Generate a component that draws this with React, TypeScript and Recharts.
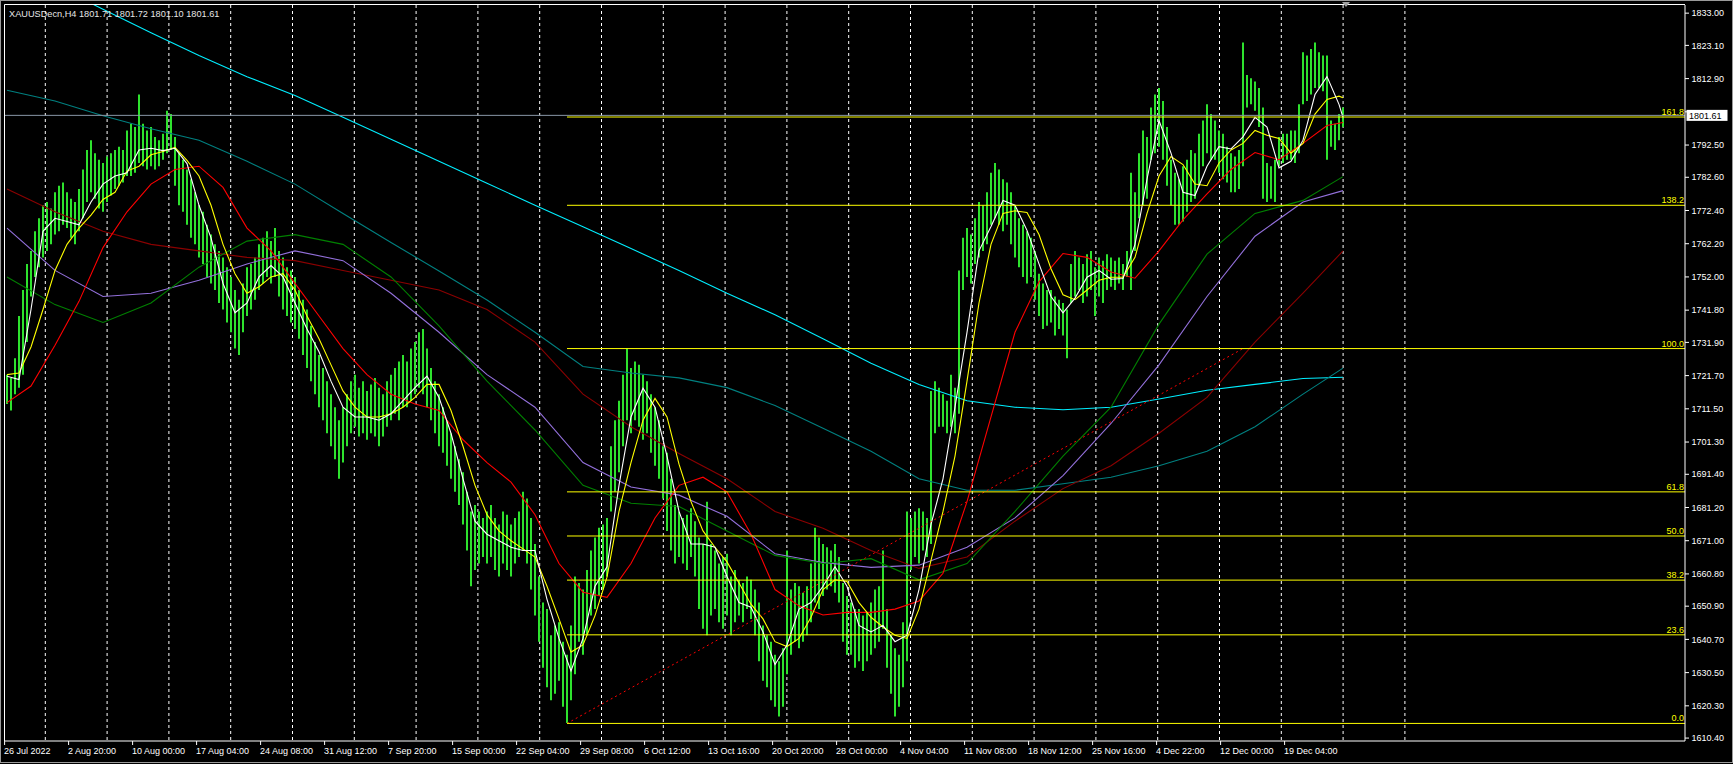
import React from 'react';
import { ComposedChart, Bar, Line, XAxis, YAxis, CartesianGrid, ReferenceLine } from 'recharts';

// H4 bars, two bars merged per row (low / high)
const barLow = [
  1713, 1711, 1716, 1718, 1722, 1732, 1746, 1752, 1755, 1758,
  1760, 1762, 1765, 1766, 1768, 1767, 1764, 1762, 1766, 1770,
  1775, 1778, 1776, 1773, 1772, 1775, 1777, 1779, 1780, 1781,
  1783, 1783, 1784, 1787, 1786, 1785, 1786, 1785, 1786, 1788,
  1790, 1791, 1780, 1774, 1772, 1768, 1764, 1762, 1758, 1756,
  1752, 1750, 1748, 1744, 1742, 1738, 1735, 1730, 1728, 1735,
  1740, 1742, 1745, 1748, 1750, 1752, 1750, 1752, 1746, 1742,
  1740, 1738, 1736, 1733, 1728, 1724, 1720, 1716, 1712, 1708,
  1704, 1700, 1696, 1690, 1695, 1700, 1704, 1706, 1703, 1704,
  1702, 1704, 1703, 1700, 1703, 1706, 1708, 1710, 1708, 1712,
  1712, 1714, 1716, 1718, 1716, 1712, 1708, 1704, 1700, 1698,
  1694, 1690, 1686, 1682, 1676, 1668, 1657, 1662, 1664, 1666,
  1664, 1666, 1662, 1660, 1664, 1662, 1660, 1664, 1666, 1668,
  1664, 1656, 1648, 1640, 1632, 1626, 1622, 1624, 1628, 1620,
  1615, 1622, 1630, 1640, 1636, 1642, 1648, 1650, 1654, 1656,
  1660, 1680, 1686, 1692, 1700, 1708, 1704, 1708, 1706, 1702,
  1704, 1698, 1694, 1690, 1684, 1674, 1668, 1664, 1666, 1664,
  1662, 1666, 1660, 1650, 1644, 1642, 1648, 1650, 1646, 1644,
  1648, 1642, 1646, 1648, 1646, 1650, 1647, 1642, 1634, 1628,
  1626, 1622, 1620, 1617, 1620, 1630, 1636, 1640, 1638, 1640,
  1642, 1646, 1652, 1650, 1654, 1656, 1657, 1655, 1652, 1640,
  1636, 1636, 1632, 1634, 1631, 1634, 1636, 1638, 1640, 1644,
  1632, 1624, 1617, 1620, 1626, 1634, 1662, 1666, 1664, 1668,
  1666, 1670, 1704, 1706, 1706, 1704, 1706, 1704, 1710, 1748,
  1752, 1750, 1756, 1758, 1760, 1762, 1768, 1770, 1768, 1766,
  1768, 1762, 1758, 1755, 1752, 1750, 1752, 1745, 1740, 1736,
  1737, 1738, 1734, 1736, 1734, 1727, 1744, 1746, 1748, 1744,
  1746, 1748, 1740, 1746, 1744, 1748, 1749, 1748, 1750, 1748,
  1752, 1748, 1760, 1770, 1774, 1776, 1788, 1790, 1792, 1788,
  1780, 1774, 1768, 1768, 1769, 1772, 1775, 1776, 1780, 1786,
  1790, 1788, 1788, 1784, 1782, 1781, 1778, 1778, 1779, 1786,
  1804, 1805, 1803, 1798, 1776, 1775, 1776, 1775, 1786, 1787,
  1788, 1788, 1787, 1790, 1805, 1806, 1808, 1810, 1810, 1809,
  1788, 1792, 1791, 1794, 1798,
];

const barHigh = [
  1722, 1721, 1727, 1740, 1748, 1756, 1760, 1766, 1770, 1774,
  1775, 1773, 1778, 1780, 1781, 1778, 1776, 1775, 1779, 1785,
  1791, 1794, 1790, 1788, 1787, 1789, 1790, 1791, 1792, 1791,
  1797, 1799, 1798, 1808, 1799, 1797, 1798, 1795, 1794, 1796,
  1803, 1802, 1795, 1790, 1788, 1785, 1782, 1778, 1774, 1772,
  1768, 1765, 1762, 1760, 1758, 1755, 1752, 1748, 1745, 1750,
  1755, 1756, 1758, 1762, 1764, 1766, 1763, 1767, 1760, 1758,
  1755, 1754, 1752, 1748, 1745, 1742, 1737, 1732, 1728, 1724,
  1720, 1716, 1712, 1708, 1712, 1716, 1720, 1722, 1718, 1720,
  1717, 1719, 1721, 1718, 1716, 1720, 1722, 1724, 1726, 1728,
  1726, 1730, 1732, 1735, 1736, 1730, 1724, 1720, 1716, 1712,
  1708, 1704, 1700, 1696, 1692, 1686, 1680, 1682, 1680, 1678,
  1680, 1682, 1678, 1676, 1680, 1679, 1676, 1678, 1680, 1686,
  1684, 1678, 1670, 1660, 1652, 1650, 1642, 1645, 1646, 1640,
  1636, 1645, 1660, 1658, 1656, 1662, 1668, 1672, 1675, 1676,
  1678, 1700, 1708, 1714, 1722, 1730, 1724, 1726, 1725, 1722,
  1720, 1716, 1712, 1708, 1700, 1698, 1690, 1682, 1680, 1678,
  1679, 1681, 1677, 1672, 1670, 1683, 1670, 1668, 1664, 1666,
  1667, 1660, 1662, 1659, 1658, 1660, 1659, 1656, 1652, 1645,
  1642, 1640, 1636, 1634, 1638, 1668, 1656, 1658, 1657, 1655,
  1657, 1664, 1675, 1672, 1670, 1669, 1668, 1670, 1666, 1658,
  1654, 1652, 1650, 1650, 1648, 1649, 1652, 1656, 1657, 1668,
  1650, 1642, 1638, 1636, 1646, 1680, 1678, 1680, 1681, 1680,
  1678, 1717, 1720, 1718, 1716, 1714, 1722, 1718, 1754, 1764,
  1767, 1765, 1770, 1775, 1774, 1778, 1784, 1787, 1785, 1782,
  1781, 1778, 1774, 1770, 1768, 1766, 1764, 1760, 1753, 1750,
  1748, 1748, 1746, 1745, 1744, 1742, 1756, 1760, 1758, 1756,
  1759, 1760, 1755, 1758, 1757, 1759, 1758, 1757, 1758, 1756,
  1760, 1784, 1778, 1790, 1797, 1795, 1804, 1808, 1810, 1806,
  1798, 1788, 1784, 1782, 1786, 1788, 1791, 1790, 1796, 1800,
  1805, 1802, 1800, 1797, 1796, 1792, 1790, 1789, 1791, 1824,
  1814, 1813, 1812, 1810, 1804, 1787, 1786, 1788, 1795, 1796,
  1796, 1797, 1797, 1805, 1821, 1820, 1822, 1824, 1821, 1820,
  1820, 1800, 1799, 1802, 1804,
];

// moving averages read every 3 / 6 / 12 rows, the extra last value sits on the last bar
const maWhite = [
  1721.5, 1720.5, 1742, 1766, 1770, 1769, 1768, 1775, 1780.5, 1783,
  1784, 1791, 1791.5, 1790.8, 1791.5, 1786.8, 1774, 1764, 1750, 1741,
  1744, 1752, 1755.5, 1752, 1744, 1736, 1729, 1720, 1712, 1709,
  1709, 1708, 1710, 1714, 1718, 1721.5, 1715, 1704, 1690, 1677,
  1673, 1671, 1669, 1668, 1668, 1653, 1641, 1631, 1641, 1657,
  1663, 1688, 1709, 1717.8, 1712, 1697, 1680, 1670, 1670, 1669,
  1660, 1652, 1650.6, 1643, 1633, 1639, 1650, 1652, 1657, 1663,
  1657, 1645, 1643, 1645, 1640, 1642, 1656, 1676, 1690, 1712,
  1735, 1760, 1767.5, 1775.5, 1774, 1766.3, 1756, 1746, 1741, 1745.5,
  1751.9, 1754, 1751.3, 1751.5, 1762, 1782, 1800, 1790, 1778, 1777,
  1786, 1792, 1791.3, 1795, 1801, 1798, 1785.5, 1787.5, 1794, 1808,
  1813.5, 1805, 1801,
];
const maYellow = [
  1722, 1722.5, 1730.5, 1742, 1754, 1762, 1767, 1771, 1775.8, 1778,
  1784.5, 1786, 1789.5, 1790.5, 1791.8, 1787.8, 1783, 1774, 1762, 1753,
  1747, 1749, 1752, 1753, 1748, 1740, 1733, 1725, 1717, 1712,
  1709, 1709, 1710, 1712, 1715, 1719, 1719, 1711, 1700, 1688,
  1679, 1674, 1671, 1668.5, 1666, 1657, 1647, 1636.8, 1639, 1648,
  1659.8, 1680, 1695, 1708, 1714.7, 1709, 1694.5, 1683, 1674, 1669,
  1664.5, 1658, 1651.5, 1647, 1640, 1638.5, 1641, 1647.5, 1656, 1659,
  1658.5, 1652, 1647.5, 1644.5, 1642, 1641, 1650, 1665, 1680, 1697,
  1720, 1744, 1762, 1771.5, 1772.3, 1771.8, 1765, 1754.5, 1746.5, 1745,
  1748, 1751, 1751.9, 1751.9, 1758, 1771.5, 1783, 1789, 1786.5, 1780.5,
  1780, 1787, 1791, 1793, 1797, 1795.5, 1794.5, 1790, 1793, 1802,
  1806.5, 1807.5, 1807,
];
const maRed = [
  1713.4, 1718.5, 1731, 1744.5, 1761, 1772, 1780.5, 1785, 1786, 1779.5,
  1767, 1760, 1750, 1740, 1730, 1722, 1716, 1713, 1711, 1702,
  1695, 1689, 1679, 1664, 1655.2, 1653.6, 1664, 1678, 1688, 1690.5,
  1686, 1673, 1656, 1651, 1648.2, 1649, 1649, 1650, 1652.5, 1661,
  1683, 1709, 1735, 1750.5, 1759.2, 1758, 1753.5, 1751.6, 1760, 1769.5,
  1777.5, 1785, 1790.2, 1788, 1793, 1798.5, 1799.4,
];
const maGreen = [
  1752, 1743.5, 1738, 1744, 1755, 1763, 1765, 1762, 1752, 1737,
  1720, 1705, 1688, 1682.5, 1681.5, 1674, 1666.5, 1664, 1665.5, 1659,
  1664, 1680, 1697, 1712, 1737.5, 1759, 1771.5, 1775.5, 1782.8,
];
const maPurple = [
  1767, 1754, 1746, 1747, 1751, 1756, 1760, 1757, 1747, 1735,
  1722, 1712, 1695, 1687.5, 1685, 1678.5, 1667, 1664.3, 1662.8, 1663.5,
  1669, 1678, 1691, 1707, 1725, 1746, 1764.5, 1775, 1778.5,
];
const maMaroon = [
  1779, 1772, 1766, 1762, 1760, 1758, 1757, 1754, 1751, 1748,
  1742, 1732, 1716, 1706, 1697.8, 1690, 1680, 1674.8, 1668, 1662.5,
  1666, 1677, 1687, 1694, 1704, 1715, 1732, 1747, 1760,
];
const maTeal = [
  1809.3, 1806, 1801.5, 1797.5, 1794, 1787.5, 1780.5, 1771.5, 1762.6, 1753.8,
  1744.9, 1735, 1724.5, 1722.5, 1721, 1718, 1712.5, 1705.5, 1698.5, 1690,
  1686.5, 1686.5, 1688.5, 1690.5, 1694, 1698.5, 1706, 1716, 1724,
];
const maCyan = [
  1848.6, 1841.5, 1834.2, 1827, 1820, 1813.5, 1807.7, 1801, 1794.3, 1787.5,
  1780.8, 1774, 1767.4, 1760.7, 1754, 1747, 1740.4, 1733, 1725.5, 1719,
  1714, 1712, 1711.2, 1712, 1714.5, 1717.2, 1719, 1720.8, 1721.2,
];

const timeLabels = [
  '26 Jul 2022', '2 Aug 20:00', '10 Aug 00:00', '17 Aug 04:00', '24 Aug 08:00',
  '31 Aug 12:00', '7 Sep 20:00', '15 Sep 00:00', '22 Sep 04:00', '29 Sep 08:00',
  '6 Oct 12:00', '13 Oct 16:00', '20 Oct 20:00', '28 Oct 00:00', '4 Nov 04:00',
  '11 Nov 08:00', '18 Nov 12:00', '25 Nov 16:00', '4 Dec 22:00', '12 Dec 00:00',
  '19 Dec 04:00',
];
const priceTicks = [
  1833.0, 1823.1, 1812.9, 1802.7, 1792.5, 1782.6, 1772.4, 1762.2, 1752.0, 1741.8,
  1731.9, 1721.7, 1711.5, 1701.3, 1691.4, 1681.2, 1671.0, 1660.8, 1650.9, 1640.7,
  1630.5, 1620.3, 1610.4,
];

const fibLevels = [1614.9, 1642.1, 1658.9, 1672.45, 1686.0, 1730.0, 1774.0, 1801.1];
const fibNames = ['0.0', '23.6', '38.2', '50.0', '61.8', '100.0', '138.2', '161.8'];
const fibStartBar = 140;
const trendFrom = { bar: 140, price: 1614.9 };
const trendTo = { bar: 309, price: 1730.0 };

const lastPrice = 1801.61;
const header = 'XAUUSDecn,H4  1801.71 1801.72 1801.10 1801.61';

const TOTAL = 420;
const LAST = barLow.length - 1;
const FONT = "'Liberation Sans', Arial, sans-serif";

const rows: any[] = Array.from({ length: TOTAL }, (_, i) => ({
  i,
  hl: i <= LAST ? [barLow[i], barHigh[i]] : undefined,
}));
const put = (key: string, values: number[], step: number) =>
  values.forEach((v, k) => {
    rows[Math.min(k * step, LAST)][key] = v;
  });
put('w', maWhite, 3);
put('y', maYellow, 3);
put('r', maRed, 6);
put('g', maGreen, 12);
put('p', maPurple, 12);
put('m', maMaroon, 12);
put('t', maTeal, 12);
put('c', maCyan, 12);

const lines = [
  { key: 'c', color: '#00eeff' },
  { key: 't', color: '#008080' },
  { key: 'm', color: '#8b0000' },
  { key: 'p', color: '#9370db' },
  { key: 'g', color: '#008000' },
  { key: 'r', color: '#ff0000' },
  { key: 'y', color: '#ffff00' },
  { key: 'w', color: '#ffffff' },
];

const TimeTick = (props: any) => {
  const { x, y, payload } = props;
  const label = timeLabels[Math.round(payload.value / 16)];
  return (
    <g>
      <line x1={x - 2.4} x2={x - 2.4} y1={y} y2={y + 4} stroke="#fff" />
      <text x={x - 3} y={y + 12.5} fill="#fff" fontSize={9} fontFamily={FONT} textAnchor="start">
        {label}
      </text>
    </g>
  );
};

// the tick under the current-price box is covered by it, as in the terminal
const PriceTick = (props: any) => {
  const { x, y, payload } = props;
  const hidden = Math.abs(payload.value - lastPrice) < 3;
  return (
    <g>
      <line x1={x} x2={x + 4} y1={y} y2={y} stroke="#fff" />
      {!hidden && (
        <text x={x + 6.5} y={y + 3.2} fill="#fff" fontSize={9} fontFamily={FONT} textAnchor="start">
          {Number(payload.value).toFixed(2)}
        </text>
      )}
    </g>
  );
};

const fibLabel = (name: string) => (props: any) => {
  const vb = props.viewBox;
  if (!vb) return null;
  const right = vb.x + Math.abs(vb.width || 0);
  return (
    <text x={right - 1} y={vb.y - 2} fill="#ffff00" fontSize={9} fontFamily={FONT} textAnchor="end">
      {name}
    </text>
  );
};

const priceBox = (props: any) => {
  const vb = props.viewBox;
  if (!vb) return null;
  const x = vb.x + vb.width;
  return (
    <g>
      <rect x={x + 1.5} y={vb.y - 5.5} width={41} height={11} fill="#ffffff" />
      <text x={x + 4} y={vb.y + 3.3} fill="#000" fontSize={9} fontFamily={FONT}>
        {lastPrice.toFixed(2)}
      </text>
    </g>
  );
};

export default function App() {
  return (
    <div style={{ position: 'fixed', left: 0, top: 0, width: 1733, height: 764, background: '#000' }}>
      <ComposedChart width={1733} height={764} data={rows} margin={{ top: 5, right: 0, bottom: 0, left: 5 }}>
        <CartesianGrid
          horizontal={false}
          stroke="#ffffff"
          strokeDasharray="3 3"
          verticalCoordinatesGenerator={({ offset }: any) =>
            Array.from({ length: 23 }, (_, k) => offset.left + 40.3 + 61.8 * k)
          }
        />
        <XAxis
          dataKey="i"
          type="number"
          domain={[-0.5, TOTAL - 0.5]}
          allowDataOverflow
          ticks={timeLabels.map((_, k) => k * 16)}
          interval={0}
          tick={<TimeTick />}
          tickLine={false}
          tickSize={0}
          tickMargin={0}
          axisLine={{ stroke: '#fff' }}
          height={23}
        />
        <YAxis
          orientation="right"
          type="number"
          domain={[1609.5, 1835.5]}
          allowDataOverflow
          ticks={priceTicks}
          interval={0}
          tick={<PriceTick />}
          tickLine={false}
          tickSize={0}
          tickMargin={0}
          axisLine={{ stroke: '#fff' }}
          width={48}
        />
        <Bar dataKey="hl" fill="#2ee22e" barSize={2} isAnimationActive={false} />
        {lines.map((l) => (
          <Line
            key={l.key}
            dataKey={l.key}
            stroke={l.color}
            strokeWidth={1.1}
            dot={false}
            activeDot={false}
            connectNulls
            isAnimationActive={false}
          />
        ))}
        <ReferenceLine y={lastPrice} stroke="#8896a6" label={priceBox} />
        <ReferenceLine
          segment={[
            { x: trendFrom.bar, y: trendFrom.price },
            { x: trendTo.bar, y: trendTo.price },
          ]}
          stroke="#ff0000"
          strokeDasharray="2 3"
        />
        {fibLevels.map((lv, k) => (
          <ReferenceLine
            key={fibNames[k]}
            segment={[
              { x: fibStartBar, y: lv },
              { x: TOTAL - 0.5, y: lv },
            ]}
            stroke="#ffff00"
            label={fibLabel(fibNames[k])}
          />
        ))}
      </ComposedChart>
      <svg width={1733} height={764} style={{ position: 'absolute', left: 0, top: 0, pointerEvents: 'none' }}>
        <rect x={0.5} y={0.5} width={1732} height={762} fill="none" stroke="#9a9a9a" />
        <line x1={4.5} x2={1685} y1={4.5} y2={4.5} stroke="#ffffff" />
        <line x1={4.5} x2={4.5} y1={4.5} y2={741} stroke="#ffffff" />
        <polygon points="1342,2 1350,2 1346,7" fill="#a0a0a0" />
        <text x={9} y={16.5} fill="#e6e6e6" fontSize={9.2} fontFamily={FONT}>
          {header}
        </text>
      </svg>
    </div>
  );
}
